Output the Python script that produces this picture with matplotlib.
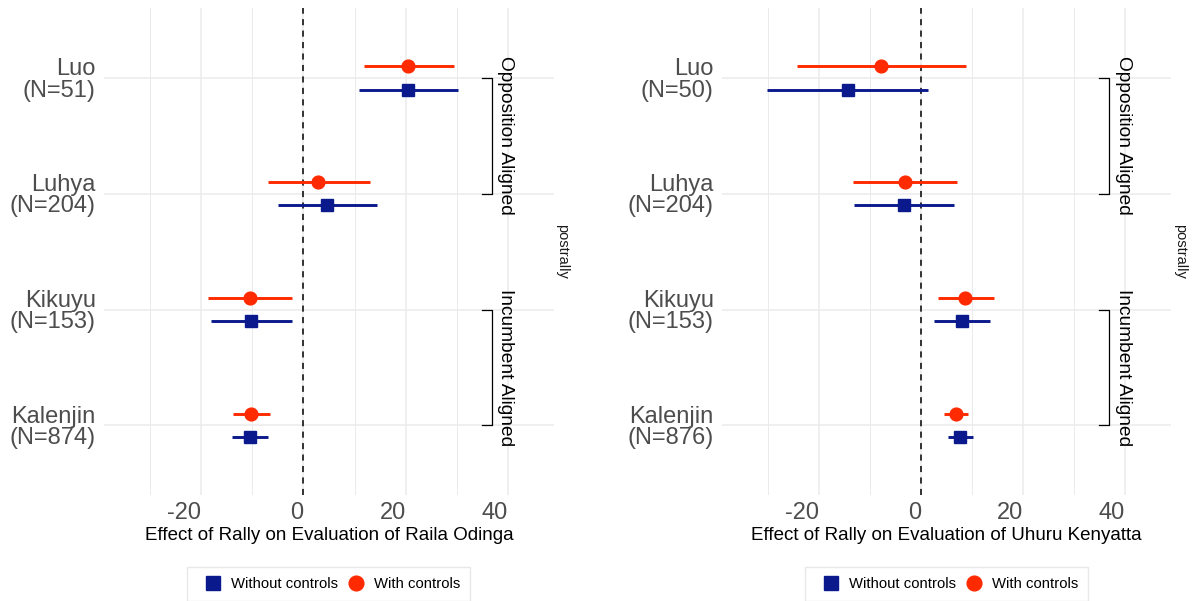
import numpy as np
import matplotlib.pyplot as plt
from matplotlib.lines import Line2D

plt.rcParams['font.family'] = ['Liberation Sans', 'DejaVu Sans']

# ethnic groups, top to bottom
groups = ['Luo', 'Luhya', 'Kikuyu', 'Kalenjin']

# Raila Odinga panel
n_raila = [51, 204, 153, 874]
raila_nc_est = [20.5, 4.6, -10.3, -10.4]
raila_nc_lo = [10.9, -4.9, -18.1, -13.9]
raila_nc_hi = [30.3, 14.3, -2.3, -6.9]
raila_c_est = [20.5, 2.9, -10.4, -10.2]
raila_c_lo = [11.8, -6.9, -18.6, -13.8]
raila_c_hi = [29.4, 13.0, -2.3, -6.5]

# Uhuru Kenyatta panel
n_uhuru = [50, 204, 153, 876]
uhuru_nc_est = [-14.4, -3.3, 8.0, 7.6]
uhuru_nc_lo = [-30.1, -13.2, 2.5, 5.2]
uhuru_nc_hi = [1.3, 6.5, 13.6, 10.1]
uhuru_c_est = [-7.8, -3.1, 8.7, 6.8]
uhuru_c_lo = [-24.3, -13.3, 3.3, 4.5]
uhuru_c_hi = [8.9, 7.1, 14.3, 9.3]

blue = '#0A1A8C'
red = '#FF2A00'
grid_col = '#EBEBEB'


def draw_panel(ax, n, nc_est, nc_lo, nc_hi, c_est, c_lo, c_hi, xlabel):
    y = np.arange(len(groups), 0, -1)
    # estimates without controls (below) and with controls (above)
    ax.hlines(y - 0.1, nc_lo, nc_hi, color=blue, lw=2.1, zorder=3)
    ax.plot(nc_est, y - 0.1, 's', color=blue, ms=8.5, zorder=4)
    ax.hlines(y + 0.1, c_lo, c_hi, color=red, lw=2.1, zorder=3)
    ax.plot(c_est, y + 0.1, 'o', color=red, ms=9.2, zorder=4)
    ax.axvline(0, color='black', ls=(0, (4, 3.5)), lw=1.1, zorder=2)

    ax.set_xlim(-39, 49)
    ax.set_ylim(0.4, 4.6)
    ax.set_xticks([-20, 0, 20, 40])
    ax.set_xticklabels(['-20', '0', '20', '40'], ha='right')
    ax.set_xticks([-30, -10, 10, 30], minor=True)
    ax.set_yticks(y)
    ax.set_yticklabels([g + '\n(N=' + str(k) + ')' for g, k in zip(groups, n)],
                       linespacing=0.95)
    ax.grid(which='major', color=grid_col, lw=1.1)
    ax.grid(which='minor', axis='x', color=grid_col, lw=0.7)
    ax.set_axisbelow(True)
    ax.tick_params(which='both', length=0, labelsize=17, labelcolor='#4D4D4D')
    ax.tick_params(axis='x', pad=5)
    ax.tick_params(axis='y', pad=6)
    for s in ax.spines.values():
        s.set_visible(False)
    ax.set_xlabel(xlabel, fontsize=13.5, labelpad=2)

    # group brackets
    ax.plot([34.9, 36.8, 36.8, 34.9], [4, 4, 3, 3], color='black', lw=0.9, clip_on=False)
    ax.plot([34.9, 36.8, 36.8, 34.9], [2, 2, 1, 1], color='black', lw=0.9, clip_on=False)
    ax.text(39.6, 3.5, 'Opposition Aligned', rotation=-90, ha='center', va='center',
            fontsize=13.8, clip_on=False)
    ax.text(39.6, 1.5, 'Incumbent Aligned', rotation=-90, ha='center', va='center',
            fontsize=13.8, clip_on=False)


fig = plt.figure(figsize=(11.95, 6.01), dpi=100)
ax1 = fig.add_axes([0.0870, 0.1764, 0.3766, 0.8096])
ax2 = fig.add_axes([0.6042, 0.1764, 0.3757, 0.8096])

draw_panel(ax1, n_raila, raila_nc_est, raila_nc_lo, raila_nc_hi,
           raila_c_est, raila_c_lo, raila_c_hi,
           'Effect of Rally on Evaluation of Raila Odinga')
draw_panel(ax2, n_uhuru, uhuru_nc_est, uhuru_nc_lo, uhuru_nc_hi,
           uhuru_c_est, uhuru_c_lo, uhuru_c_hi,
           'Effect of Rally on Evaluation of Uhuru Kenyatta')

# facet strip labels
fig.text(562 / 1195, 1 - 251 / 601, 'postrally', rotation=-90, fontsize=10.5,
         color='#1A1A1A', ha='center', va='center')
fig.text(1180 / 1195, 1 - 251 / 601, 'postrally', rotation=-90, fontsize=10.5,
         color='#1A1A1A', ha='center', va='center')

handles = [Line2D([], [], marker='s', ls='', color=blue, ms=9.4),
           Line2D([], [], marker='o', ls='', color=red, ms=10.6)]
labels = ['Without controls', 'With controls']
for cx in [328.5 / 1195, 946.5 / 1195]:
    fig.legend(handles, labels, loc='center', bbox_to_anchor=(cx, 1 - 584 / 601),
               ncol=2, frameon=True, fancybox=False, edgecolor='#E3E3E3',
               fontsize=10.7, handlelength=2.2, handletextpad=0.1,
               columnspacing=0.1, borderpad=0.7)

fig.savefig('out.png', dpi=100)
